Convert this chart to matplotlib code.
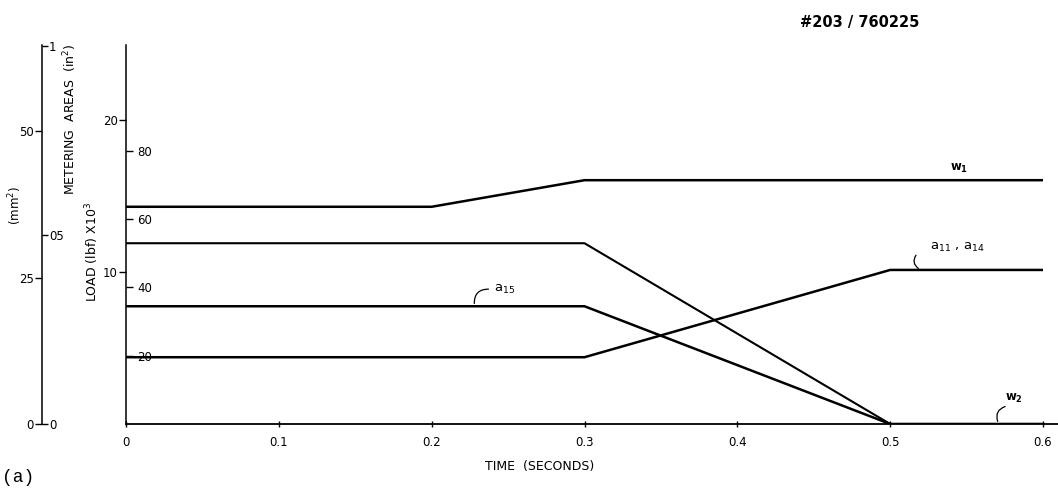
import matplotlib.pyplot as plt
import numpy as np

# time (s) and series values
t_w1 = [0.0, 0.2, 0.3, 0.6]
w1 = [14.3, 14.3, 16.05, 16.05]          # load, lbf x 10^3
t_w2 = [0.0, 0.3, 0.5, 0.6]
w2 = [11.9, 11.9, 0.0, 0.0]              # load, lbf x 10^3
t_a15 = [0.0, 0.3, 0.5, 0.6]
a15 = [20.1, 20.1, 0.0, 0.0]             # metering area, mm^2
t_a11 = [0.0, 0.3, 0.5, 0.6]
a11_a14 = [11.4, 11.4, 26.3, 26.3]       # metering area, mm^2

x_ticks = [0, 0.1, 0.2, 0.3, 0.4, 0.5, 0.6]
x_labels = ['0', '0.1', '0.2', '0.3', '0.4', '0.5', '0.6']
load_ticks = [10, 20]
kn_ticks = [20, 40, 60, 80]
mm2_ticks = [0, 25, 50]
in2_ticks = [0, 0.05, 0.1]
in2_labels = ['0', '05', '1']

LOAD_MAX = 24.95
MM2_MAX = 64.7
KN_PER_KLBF = 4.448
MM2_PER_IN2 = 645.16

plt.rcParams['font.family'] = ['DejaVu Sans']
fs = 8.5

fig = plt.figure(figsize=(10.58, 4.93), dpi=100)
W, H = 1058, 493
left, right, bottom, top = 126, 1043, 424, 45
ax = fig.add_axes([left / W, 1 - bottom / H, (right - left) / W, (bottom - top) / H])
ax_area = ax.twinx()

ax.plot(t_w1, w1, color='k', lw=1.8, solid_capstyle='butt')
ax.plot(t_w2, w2, color='k', lw=1.5, solid_capstyle='butt')
ax_area.plot(t_a15, a15, color='k', lw=1.8, solid_capstyle='butt')
ax_area.plot(t_a11, a11_a14, color='k', lw=1.8, solid_capstyle='butt')

ax.set_xlim(0, 0.6)
ax.set_ylim(0, LOAD_MAX)
ax_area.set_ylim(0, MM2_MAX)
ax_area.axis('off')

for s in ['top', 'right']:
    ax.spines[s].set_visible(False)
ax.spines['left'].set_linewidth(1.1)
ax.spines['bottom'].set_linewidth(1.3)
ax.spines['bottom'].set_bounds(0, 0.61)

ax.set_xticks(x_ticks)
ax.set_xticklabels(x_labels)
ax.set_yticks(load_ticks)
ax.tick_params(axis='x', direction='inout', length=5, width=1, labelsize=fs, pad=6)
ax.tick_params(axis='y', direction='out', length=5, width=1, labelsize=fs, pad=1)
ax.set_xlabel('TIME  (SECONDS)', fontsize=fs + 0.5)
ax.xaxis.set_label_coords((540 - left) / (right - left), -0.095)

# inner kN scale on the load axis
kn = ax.secondary_yaxis('left', functions=(lambda v: v * KN_PER_KLBF, lambda v: v / KN_PER_KLBF))
kn.set_yticks(kn_ticks)
kn.spines['left'].set_visible(False)
kn.tick_params(axis='y', direction='in', length=5, width=1, labelsize=fs, pad=-19)

# far-left metering area axis (mm^2 / in^2)
ax2 = fig.add_axes([42 / W, 1 - bottom / H, 0.0001, (bottom - top) / H])
ax2.set_ylim(0, MM2_MAX)
ax2.set_xticks([])
for s in ['top', 'right', 'bottom']:
    ax2.spines[s].set_visible(False)
ax2.spines['left'].set_linewidth(1.1)
ax2.set_yticks(mm2_ticks)
ax2.tick_params(axis='y', direction='out', length=5, width=1, labelsize=fs, pad=1)
sec = ax2.secondary_yaxis('right', functions=(lambda v: v / MM2_PER_IN2, lambda v: v * MM2_PER_IN2))
sec.set_yticks(in2_ticks)
sec.set_yticklabels(in2_labels)
sec.spines['right'].set_visible(False)
sec.tick_params(axis='y', direction='out', length=4, width=1, labelsize=fs, pad=1)

fig.text(15 / W, 1 - 206 / H, '(mm$^2$)', rotation=90, ha='center', va='center', fontsize=fs)
fig.text(70 / W, 1 - 119 / H, 'METERING  AREAS  (in$^2$)', rotation=90, ha='center', va='center', fontsize=fs + 0.5)
fig.text(92 / W, 1 - 252 / H, 'LOAD (lbf) X10$^3$', rotation=90, ha='center', va='center', fontsize=fs + 0.5)

# curve labels
ax.text(0.545, 16.8, 'w$_{\\mathregular{1}}$', fontsize=fs, ha='center', va='center', fontweight='bold')
ax.text(0.581, 1.7, 'w$_{\\mathregular{2}}$', fontsize=fs, ha='center', va='center', fontweight='bold')
ax.annotate('', xy=(0.571, 0), xytext=(0.577, 1.2),
            arrowprops=dict(arrowstyle='-', color='k', lw=0.9, connectionstyle='arc3,rad=0.6'))
ax_area.text(0.248, 22.9, 'a$_{\\mathregular{15}}$', fontsize=fs + 1, ha='center', va='center')
ax_area.annotate('', xy=(0.228, 20.1), xytext=(0.239, 23.0),
                 arrowprops=dict(arrowstyle='-', color='k', lw=0.9, connectionstyle='arc3,rad=0.6'))
ax_area.text(0.544, 30.2, 'a$_{\\mathregular{11}}$ , a$_{\\mathregular{14}}$', fontsize=fs + 1, ha='center', va='center')
ax_area.annotate('', xy=(0.520, 26.3), xytext=(0.518, 29.2),
                 arrowprops=dict(arrowstyle='-', color='k', lw=0.9, connectionstyle='arc3,rad=0.6'))

fig.text(800 / W, 1 - 22 / H, '#203 / 760225', fontsize=10.5, fontweight='bold', va='center')
fig.text(2 / W, 1 - 478 / H, '(a)', fontsize=13, family=['Liberation Mono', 'DejaVu Sans Mono'], va='center')

fig.savefig('out.png', dpi=100)
